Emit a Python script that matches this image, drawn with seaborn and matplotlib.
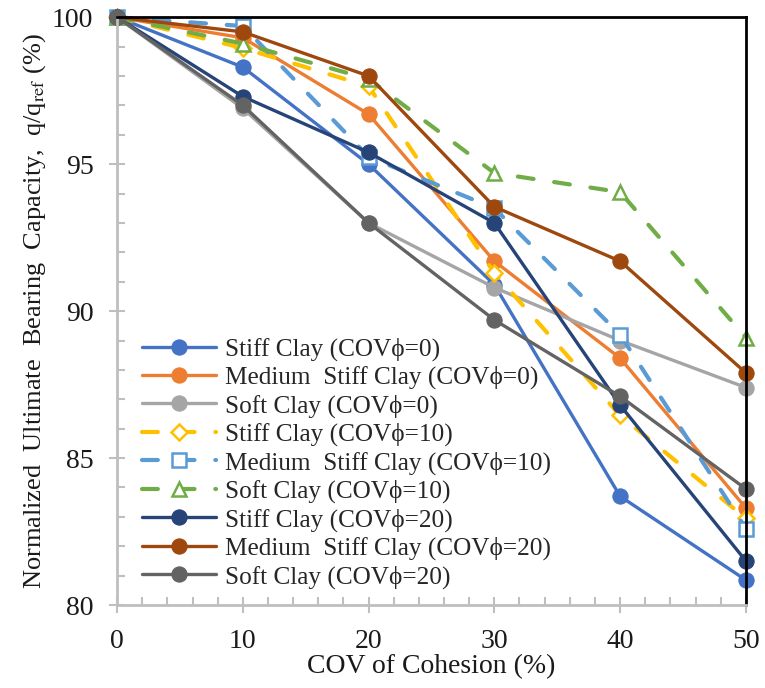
import pandas as pd
import matplotlib
matplotlib.use('Agg')
import matplotlib.pyplot as plt
import seaborn as sns
from matplotlib.ticker import MultipleLocator

sns.set_style("white")
plt.rcParams['font.family'] = ['Liberation Serif', 'DejaVu Serif']
plt.rcParams['mathtext.fontset'] = 'stix'

# Veriler
cov_c = [0, 10, 20, 30, 40, 50]
labels = ['Stiff Clay (COVϕ=0)', 'Medium  Stiff Clay (COVϕ=0)', 'Soft Clay (COVϕ=0)',
          'Stiff Clay (COVϕ=10)', 'Medium  Stiff Clay (COVϕ=10)', 'Soft Clay (COVϕ=10)',
          'Stiff Clay (COVϕ=20)', 'Medium  Stiff Clay (COVϕ=20)', 'Soft Clay (COVϕ=20)']
stiff_0 = [100, 98.3, 95.0, 90.9, 83.7, 80.85]
medium_0 = [100, 99.3, 96.7, 91.7, 88.4, 83.3]
soft_0 = [100, 96.9, 93.0, 90.8, 89.0, 87.4]
stiff_10 = [100, 98.95, 97.65, 91.3, 86.45, 82.95]
medium_10 = [100, 99.7, 95.25, 93.5, 89.2, 82.6]
soft_10 = [100, 99.1, 97.9, 94.7, 94.05, 89.1]
stiff_20 = [100, 97.3, 95.4, 93.0, 86.8, 81.5]
medium_20 = [100, 99.5, 98.0, 93.55, 91.7, 87.9]
soft_20 = [100, 97.0, 93.0, 89.7, 87.1, 83.95]
series = [stiff_0, medium_0, soft_0, stiff_10, medium_10, soft_10, stiff_20, medium_20, soft_20]

colors = ['#4472C4', '#ED7D31', '#A5A5A5', '#FFC000', '#5B9BD5', '#70AD47',
          '#264478', '#9E480E', '#636363']
markers = ['o', 'o', 'o', 'D', 's', '^', 'o', 'o', 'o']
dashed = [False, False, False, True, True, True, False, False, False]

fig, ax = plt.subplots(figsize=(7.65, 6.88), dpi=100)
fig.subplots_adjust(left=0.153, right=0.975, top=0.975, bottom=0.1206)

for lab, vals, col, mk, ds in zip(labels, series, colors, markers, dashed):
    df = pd.DataFrame({'x': cov_c, 'y': vals})
    if ds:
        sns.lineplot(data=df, x='x', y='y', ax=ax, color=col, linewidth=3.0,
                     linestyle=(0, (3.8, 5.0)), dash_capstyle='round',
                     marker=mk, markersize=10.5 if mk != 'D' else 8,
                     markerfacecolor='white', markeredgecolor=col, markeredgewidth=1.8,
                     label=lab, clip_on=False)
    else:
        sns.lineplot(data=df, x='x', y='y', ax=ax, color=col, linewidth=2.4,
                     marker=mk, markersize=11, markeredgecolor=col,
                     label=lab, clip_on=False)

ax.set_xlim(0, 50)
ax.set_ylim(80, 100)
ax.xaxis.set_major_locator(MultipleLocator(10))
ax.xaxis.set_minor_locator(MultipleLocator(2))
ax.yaxis.set_major_locator(MultipleLocator(5))
ax.yaxis.set_minor_locator(MultipleLocator(1))

for s in ['left', 'bottom']:
    ax.spines[s].set_color('#BFBFBF')
    ax.spines[s].set_linewidth(2)
for s in ['top', 'right']:
    ax.spines[s].set_color('black')
    ax.spines[s].set_linewidth(2)

ax.tick_params(which='major', direction='inout', length=12, width=1.5, color='#BFBFBF',
               labelsize=20, labelcolor='#1a1a1a', pad=11)
ax.tick_params(which='minor', direction='in', length=6, width=1.5, color='#BFBFBF')
ax.tick_params(axis='x', which='both', bottom=True)
ax.tick_params(axis='y', which='both', left=True)

ax.set_xlabel('COV of Cohesion (%)', fontsize=20, color='#1a1a1a', labelpad=0)
ax.set_ylabel(r'Normalized  Ultimate  Bearing  Capacity,  q/q$_{\mathrm{ref}}$ (%)',
              fontsize=19, color='#1a1a1a', labelpad=3)

ax.legend(loc='lower left', bbox_to_anchor=(0.014, 0.0), frameon=False, fontsize=18.2,
          handlelength=2.9, handletextpad=0.36, labelspacing=0.2, borderaxespad=0.25,
          borderpad=0.4)

plt.savefig('out.png', dpi=100)
plt.close()
